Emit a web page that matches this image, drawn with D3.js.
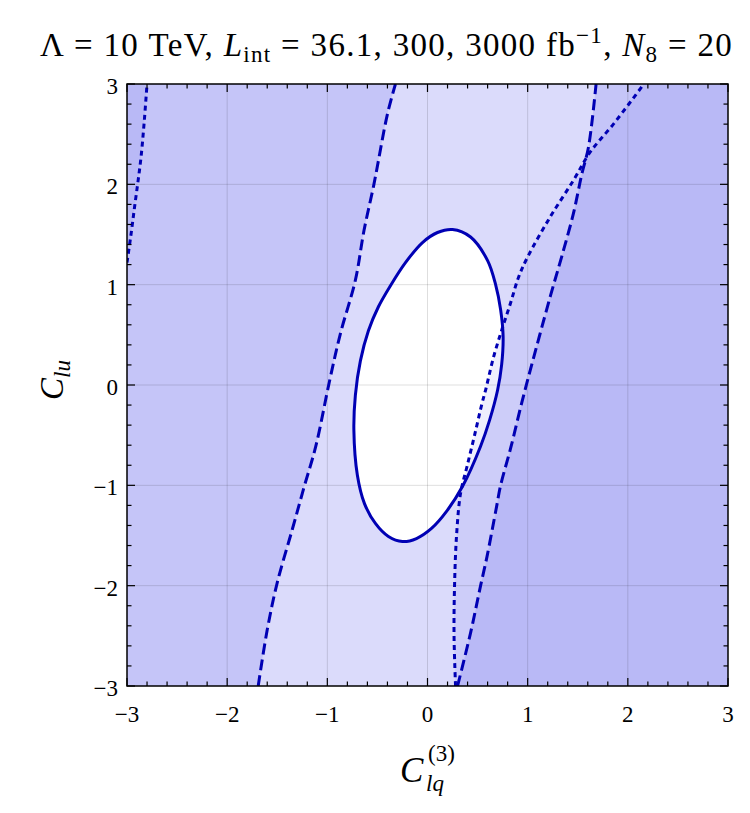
<!DOCTYPE html>
<html>
<head>
<meta charset="utf-8">
<script src="https://cdn.jsdelivr.net/npm/d3@7"></script>
<style>
  body { margin: 0; background: #fff; }
  svg text { font-family: "Liberation Serif", "DejaVu Serif", serif; fill: #000; }
</style>
</head>
<body>
<div id="chart"></div>
<script>
// contour traces, [C_lq3, C_lu]
const solid3000 = [
  [0.25, 1.55], [0.43, 1.475], [0.6, 1.24], [0.68, 1.0], [0.73, 0.75], [0.755, 0.48],
  [0.74, 0.2], [0.70, -0.05], [0.62, -0.35], [0.53, -0.61], [0.35, -1.01], [0.19, -1.26],
  [0.04, -1.43], [-0.11, -1.53], [-0.25, -1.56], [-0.39, -1.51], [-0.52, -1.38], [-0.63, -1.18],
  [-0.70, -0.9], [-0.735, -0.45], [-0.72, -0.1], [-0.67, 0.24], [-0.59, 0.54], [-0.49, 0.78],
  [-0.37, 0.99], [-0.22, 1.22], [-0.05, 1.42], [0.1, 1.52]
];
const dashedLeft300 = [
  [-1.69, -3.0], [-1.60, -2.44], [-1.50, -1.97], [-1.35, -1.44], [-1.23, -1.01], [-1.115, -0.61],
  [-0.98, 0.03], [-0.87, 0.51], [-0.72, 1.045], [-0.634, 1.54], [-0.535, 2.0], [-0.40, 2.70], [-0.32, 3.0]
];
const dashedRight300 = [
  [0.30, -3.0], [0.43, -2.47], [0.53, -2.0], [0.594, -1.71], [0.69, -1.21], [0.73, -1.0],
  [0.83, -0.63], [0.94, -0.18], [1.0, 0.05], [1.225, 0.88], [1.34, 1.28], [1.457, 1.71],
  [1.54, 2.1], [1.607, 2.37], [1.683, 3.0]
];
const dottedLeft36 = [
  [-3.0, 1.22], [-2.96, 1.5], [-2.925, 1.77], [-2.89, 2.03], [-2.86, 2.27], [-2.83, 2.6], [-2.80, 3.0]
];
const dottedRight36 = [
  [0.28, -3.0], [0.265, -2.5], [0.27, -2.0], [0.29, -1.5], [0.33, -1.08], [0.395, -0.81],
  [0.47, -0.5], [0.545, -0.18], [0.58, -0.05], [0.66, 0.28], [0.745, 0.56], [0.83, 0.82],
  [0.91, 1.077], [1.0, 1.277], [1.225, 1.675], [1.457, 2.04], [1.623, 2.32], [1.856, 2.60], [2.16, 3.0]
];
const xTicks = [-3, -2, -1, 0, 1, 2, 3];
const yTicks = [-3, -2, -1, 0, 1, 2, 3];

const width = 750, height = 813;
const plot = { left: 127, right: 728, top: 84, bottom: 686 };

const svg = d3.select('#chart').append('svg')
    .attr('width', width)
    .attr('height', height)

const x = d3.scaleLinear().domain([-3, 3]).range([plot.left, plot.right]);
const y = d3.scaleLinear().domain([-3, 3]).range([plot.bottom, plot.top]);

svg.append('clipPath').attr('id', 'plotClip')
  .append('rect')
    .attr('x', plot.left).attr('y', plot.top)
    .attr('width', plot.right - plot.left).attr('height', plot.bottom - plot.top)

const g = svg.append('g').attr('clip-path', 'url(#plotClip)');

const smooth = d3.line().x(d => x(d[0])).y(d => y(d[1])).curve(d3.curveCatmullRom.alpha(0.5));
const smoothClosed = d3.line().x(d => x(d[0])).y(d => y(d[1])).curve(d3.curveCatmullRomClosed.alpha(0.5));

const boxPath = `M${x(-3)},${y(-3)}H${x(3)}V${y(3)}H${x(-3)}Z`;

// allowed regions as closed outlines
const allowed3000 = smoothClosed(solid3000);
const allowed300 = smooth(dashedLeft300) + 'L' + smooth(dashedRight300.slice().reverse()).slice(1) + 'Z';
const allowed36 = smooth(dottedLeft36) + 'L' + smooth(dottedRight36.slice().reverse()).slice(1)
    + `L${x(-3)},${y(-3)}Z`;

// each luminosity shades what it excludes; overlaps stack up
const shade = '#5a5aeb';
[
  { path: allowed3000, opacity: 0.22 },
  { path: allowed300, opacity: 0.16 },
  { path: allowed36, opacity: 0.1 },
].forEach(r => {
  g.append('path')
    .attr('d', boxPath + r.path)
    .attr('fill-rule', 'evenodd')
    .attr('fill', shade)
    .attr('fill-opacity', r.opacity)
});

// grid
g.append('g').selectAll('line')
  .data(xTicks.slice(1, -1))
  .enter().append('line')
    .attr('x1', d => x(d)).attr('x2', d => x(d))
    .attr('y1', plot.top).attr('y2', plot.bottom)
    .style('stroke', '#000').style('stroke-opacity', 0.13).style('stroke-width', 1)
g.append('g').selectAll('line')
  .data(yTicks.slice(1, -1))
  .enter().append('line')
    .attr('y1', d => y(d)).attr('y2', d => y(d))
    .attr('x1', plot.left).attr('x2', plot.right)
    .style('stroke', '#000').style('stroke-opacity', 0.13).style('stroke-width', 1)

// contour lines
const lineColor = '#0000b4';
const drawLine = (d, dash) => g.append('path')
    .attr('d', d)
    .attr('fill', 'none')
    .style('stroke', lineColor)
    .style('stroke-width', 3)
    .style('stroke-dasharray', dash)

drawLine(smooth(dottedLeft36), '5,4');
drawLine(smooth(dottedRight36), '5,4');
drawLine(smooth(dashedLeft300), '11,5');
drawLine(smooth(dashedRight300), '11,5');
drawLine(allowed3000, null);

// frame and ticks (inward, all four sides)
const minor = d3.range(-3, 3.0001, 0.2).map(v => +v.toFixed(1));
const axisG = svg.append('g');
axisG.append('rect')
  .attr('x', plot.left).attr('y', plot.top)
  .attr('width', plot.right - plot.left).attr('height', plot.bottom - plot.top)
  .attr('fill', 'none').style('stroke', '#000').style('stroke-width', 1.5)

const tickLen = v => Number.isInteger(v) ? 8 : 4.5;
minor.forEach(v => {
  const L = tickLen(v);
  axisG.append('line').attr('x1', x(v)).attr('x2', x(v)).attr('y1', plot.bottom).attr('y2', plot.bottom - L)
  axisG.append('line').attr('x1', x(v)).attr('x2', x(v)).attr('y1', plot.top).attr('y2', plot.top + L)
  axisG.append('line').attr('y1', y(v)).attr('y2', y(v)).attr('x1', plot.left).attr('x2', plot.left + L)
  axisG.append('line').attr('y1', y(v)).attr('y2', y(v)).attr('x1', plot.right).attr('x2', plot.right - L)
});
axisG.selectAll('line').style('stroke', '#000').style('stroke-width', 1.2)

const fmt = v => v < 0 ? '\u2212' + Math.abs(v) : String(v);

svg.append('g').selectAll('text')
  .data(xTicks)
  .enter().append('text')
    .attr('x', d => x(d))
    .attr('y', 722)
    .attr('text-anchor', 'middle')
    .style('font-size', '23px')
    .text(fmt)

svg.append('g').selectAll('text')
  .data(yTicks)
  .enter().append('text')
    .attr('x', 118)
    .attr('y', d => y(d) + 10)
    .attr('text-anchor', 'end')
    .style('font-size', '23px')
    .text(fmt)

// title
const title = svg.append('text')
    .attr('x', 40)
    .attr('y', 56)
    .style('font-size', '33px')
title.append('tspan').text('\u039B = 10 TeV, ')
title.append('tspan').style('font-style', 'italic').text('L')
title.append('tspan').attr('dy', 6).style('font-size', '23px').text('int')
title.append('tspan').attr('dy', -6).text(' = 36.1, 300, 3000 fb')
title.append('tspan').attr('dy', -13).style('font-size', '23px').text('\u22121')
title.append('tspan').attr('dy', 13).text(', ')
title.append('tspan').style('font-style', 'italic').text('N')
title.append('tspan').attr('dy', 6).style('font-size', '23px').text('8')
title.append('tspan').attr('dy', -6).text(' = 20')

// stretch the title to the width it takes in the figure
const titleWidth = title.node().getComputedTextLength();
const nChars = title.text().length;
title.style('letter-spacing', Math.max(0, (693 - titleWidth) / nChars) + 'px')

// x axis label
const xl = svg.append('text')
    .attr('y', 782)
    .style('font-size', '35px')
xl.append('tspan').attr('x', 400).style('font-style', 'italic').text('C')
xl.append('tspan').attr('x', 428).attr('dy', -21).style('font-size', '23px').text('(3)')
xl.append('tspan').attr('x', 426).attr('dy', 30).style('font-size', '23px').style('font-style', 'italic').text('lq')

// y axis label
const yl = svg.append('text')
    .attr('transform', 'translate(63,400) rotate(-90)')
    .style('font-size', '33px')
yl.append('tspan').style('font-style', 'italic').text('C')
yl.append('tspan').attr('dy', 7).style('font-size', '23px').style('font-style', 'italic').text('lu')
</script>
</body>
</html>
